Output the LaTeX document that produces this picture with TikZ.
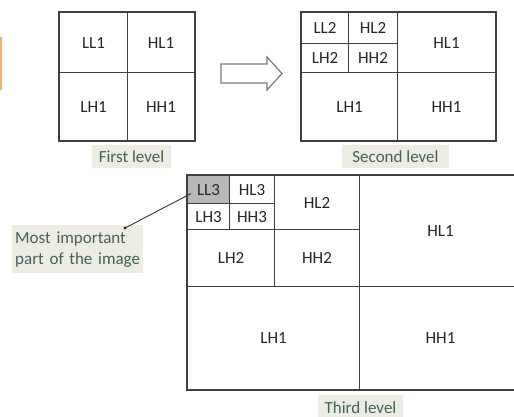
\documentclass[tikz,border=0pt]{standalone}
\usepackage{fontspec}
\setmainfont{Carlito}
\definecolor{gridline}{HTML}{404040}
\definecolor{tagbg}{HTML}{ECECE2}
\definecolor{tagtext}{HTML}{46605B}
\definecolor{shade}{HTML}{B8B8B8}
\definecolor{accent}{HTML}{F5B26B}
\definecolor{arrowline}{HTML}{7A7A7A}

\begin{document}
\begin{tikzpicture}[x=1pt,y=-1pt,
  cell/.style={draw=gridline, line width=1.1pt, anchor=north west, inner sep=0pt,
               font=\fontsize{17}{17}\selectfont, text=black!85},
  frame/.style={draw=gridline, line width=2pt},
  tag/.style={fill=tagbg, text=tagtext, inner sep=0pt, minimum height=23pt,
              font=\fontsize{17}{18}\selectfont},
]
\useasboundingbox (0,0) rectangle (514,417);
\fill[white] (0,0) rectangle (514,417);
\fill[accent] (0,37) rectangle (1.5,90);

% ---- first level ----
\node[cell, minimum width=68pt, minimum height=60pt] (ll1a) at (59,12) {LL1};
\node[cell, minimum width=67pt, minimum height=60pt] (hl1a) at (127,12) {HL1};
\node[cell, minimum width=68pt, minimum height=68pt] (lh1a) at (59,72) {LH1};
\node[cell, minimum width=67pt, minimum height=68pt] (hh1a) at (127,72) {HH1};
\draw[frame] (ll1a.north west) rectangle (hh1a.south east);
\node[tag, minimum width=79pt] (tag1) at (131.5,156.5) {First level};

% ---- hollow arrow ----
\draw[arrowline, line width=1.2pt, fill=white, line join=miter]
  (221,64) -- (267,64) -- (267,57) -- (282,73.5) -- (267,90) -- (267,83) -- (221,83) -- cycle;

% ---- second level ----
\node[cell, minimum width=47pt, minimum height=31pt] (ll2b) at (301,12) {LL2};
\node[cell, minimum width=49pt, minimum height=31pt] (hl2b) at (348,12) {HL2};
\node[cell, minimum width=47pt, minimum height=29pt] (lh2b) at (301,43) {LH2};
\node[cell, minimum width=49pt, minimum height=29pt] (hh2b) at (348,43) {HH2};
\node[cell, minimum width=98pt, minimum height=60pt] (hl1b) at (397,12) {HL1};
\node[cell, minimum width=96pt, minimum height=68pt] (lh1b) at (301,72) {LH1};
\node[cell, minimum width=98pt, minimum height=68pt] (hh1b) at (397,72) {HH1};
\draw[frame] (ll2b.north west) rectangle (hh1b.south east);
\node[tag, minimum width=107pt] (tag2) at (395.5,156.5) {Second level};

% ---- third level ----
\node[cell, fill=shade, minimum width=42pt, minimum height=28pt] (ll3c) at (187,175) {LL3};
\node[cell, minimum width=45pt, minimum height=28pt] (hl3c) at (229,175) {HL3};
\node[cell, minimum width=42pt, minimum height=26pt] (lh3c) at (187,203) {LH3};
\node[cell, minimum width=45pt, minimum height=26pt] (hh3c) at (229,203) {HH3};
\node[cell, minimum width=85pt, minimum height=54pt] (hl2c) at (274,175) {HL2};
\node[cell, minimum width=87pt, minimum height=57pt] (lh2c) at (187,229) {LH2};
\node[cell, minimum width=85pt, minimum height=57pt] (hh2c) at (274,229) {HH2};
\node[cell, minimum width=162pt, minimum height=111pt] (hl1c) at (359,175) {HL1};
\node[cell, minimum width=172pt, minimum height=103pt] (lh1c) at (187,286) {LH1};
\node[cell, minimum width=162pt, minimum height=103pt] (hh1c) at (359,286) {HH1};
\draw[frame] (ll3c.north west) rectangle (hh1c.south east);
\node[tag, minimum width=85pt, minimum height=25pt] (tag3) at (360.5,407.5) {Third level};

% ---- callout ----
\node[tag, anchor=north west, minimum width=131pt, minimum height=48pt, text width=125pt,
      align=left, inner xsep=3pt, font=\fontsize{17}{21}\selectfont] (note) at (12,225)
  {Most important\\part of the image};
\coordinate (lead) at (125,228);
\draw[gridline, line width=1pt] (lead) -- ([shift={(4,4)}]ll3c.west);
\fill[black!85] (lead) circle (1.6pt);
\end{tikzpicture}
\end{document}
